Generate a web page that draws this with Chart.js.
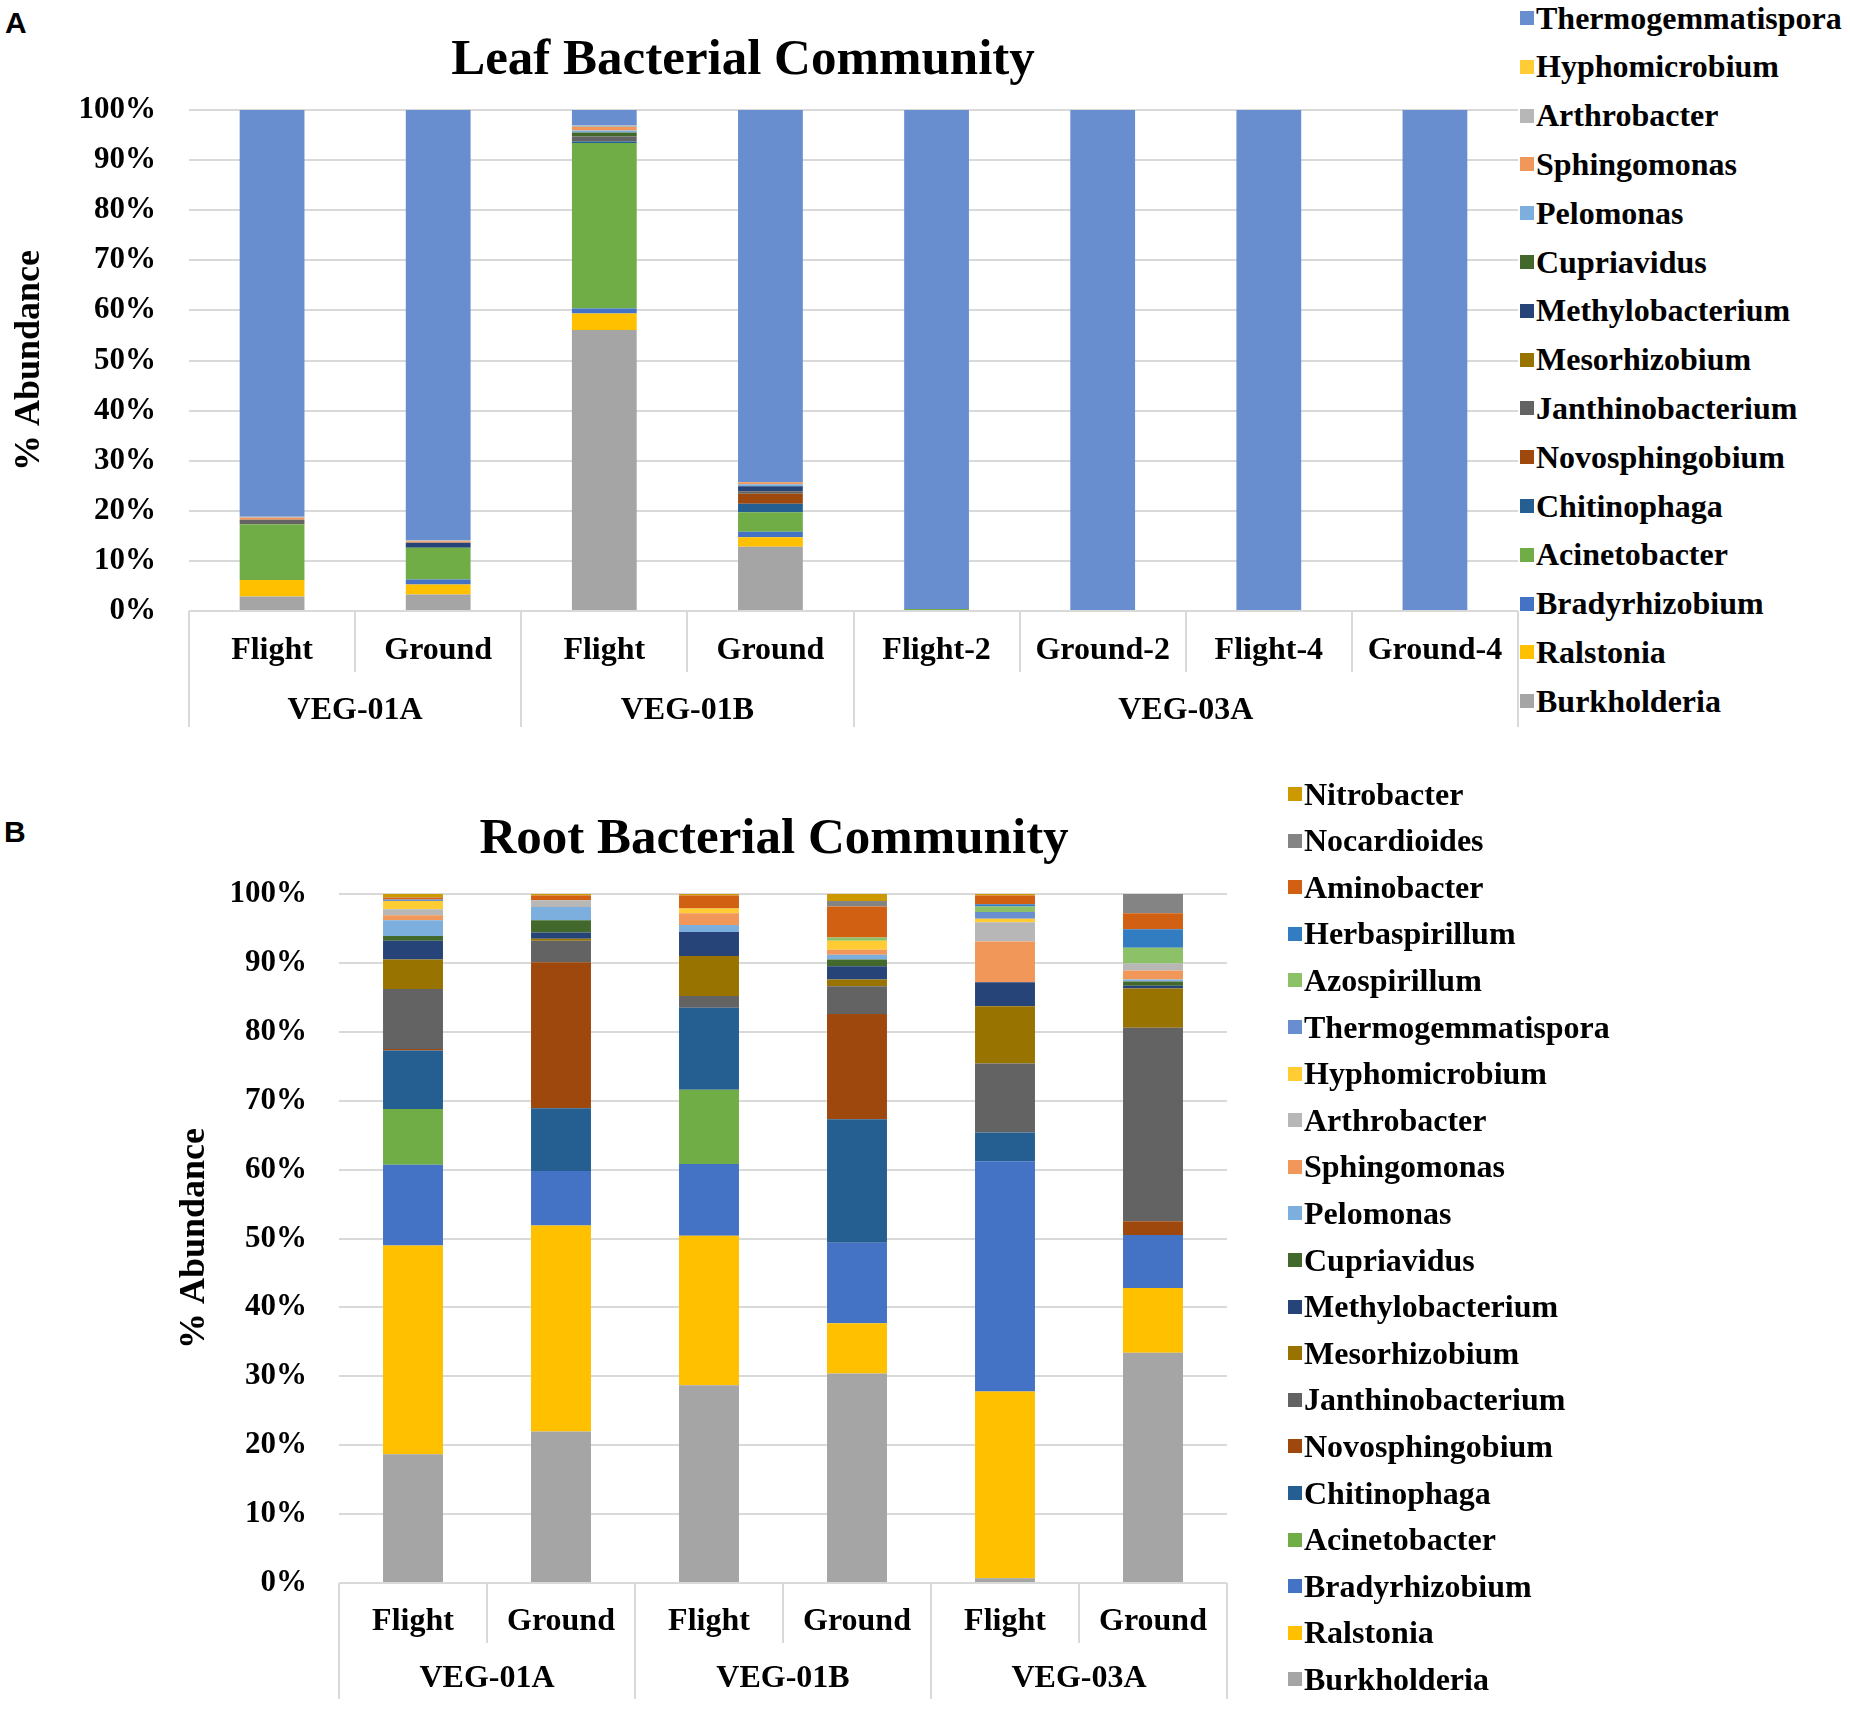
<!DOCTYPE html>
<html>
<head>
<meta charset="utf-8">
<script src="https://cdn.jsdelivr.net/npm/chart.js@4.4.1/dist/chart.umd.min.js"></script>
<style>
  body { margin: 0; background: #fff; width: 1850px; height: 1709px; position: relative; overflow: hidden; }
  .abs { position: absolute; }
  .panel { font: bold 30px "Liberation Sans", Arial, sans-serif; }
  .title { font: bold 51px "Liberation Serif", "Times New Roman", serif; white-space: nowrap; transform: translate(-50%, -50%); }
  .leg { font: bold 32px "Liberation Serif", "Times New Roman", serif; white-space: nowrap; display: flex; align-items: center; height: 40px; }
  .leg span.box { display: inline-block; width: 14px; height: 14px; margin-right: 2px; }
</style>
</head>
<body>
<div class="abs panel" style="left:5px;top:6px;">A</div>
<div class="abs panel" style="left:4px;top:815px;">B</div>
<div class="abs title" style="left:743px;top:57px;">Leaf Bacterial Community</div>
<div class="abs title" style="left:774px;top:836px;">Root Bacterial Community</div>
<canvas id="leafChart" class="abs" style="left:0;top:0;" width="1520" height="740"></canvas>
<canvas id="rootChart" class="abs" style="left:0;top:760px;" width="1290" height="949"></canvas>
<div id="leafLegend"></div>
<div id="rootLegend"></div>
<script>
// ---- data ----
var leafCategories = ['Flight', 'Ground', 'Flight', 'Ground', 'Flight-2', 'Ground-2', 'Flight-4', 'Ground-4'];
var leafGroups = ['VEG-01A', 'VEG-01B', 'VEG-03A'];
var leafGroupSizes = [2, 2, 4];

var leafBurkholderia = [2.9, 3.3, 56.1, 12.8, 0, 0, 0, 0];
var leafRalstonia = [3.3, 2.0, 3.3, 1.9, 0, 0, 0, 0];
var leafBradyrhizobium = [0, 1.0, 1.0, 1.1, 0, 0, 0, 0];
var leafAcinetobacter = [11.1, 6.3, 33.0, 3.9, 0.4, 0, 0, 0];
var leafChitinophaga = [0, 0, 0.3, 1.7, 0, 0, 0, 0];
var leafNovosphingobium = [0, 0, 0, 2.0, 0, 0, 0, 0];
var leafJanthinobacterium = [0.9, 0, 1.0, 0.5, 0, 0, 0, 0];
var leafMesorhizobium = [0, 0, 0, 0, 0, 0, 0, 0];
var leafMethylobacterium = [0, 1.0, 0, 1.0, 0, 0, 0, 0];
var leafCupriavidus = [0, 0, 0.8, 0, 0, 0, 0, 0];
var leafPelomonas = [0, 0, 0.4, 0.4, 0, 0, 0, 0];
var leafSphingomonas = [0.4, 0.3, 0.7, 0.4, 0, 0, 0, 0];
var leafArthrobacter = [0.2, 0.2, 0.3, 0, 0, 0, 0, 0];
var leafHyphomicrobium = [0, 0, 0, 0, 0, 0, 0, 0];
var leafThermogemmatispora = [81.2, 85.9, 3.1, 74.3, 99.6, 100, 100, 100];

var rootCategories = ['Flight', 'Ground', 'Flight', 'Ground', 'Flight', 'Ground'];
var rootGroups = ['VEG-01A', 'VEG-01B', 'VEG-03A'];
var rootGroupSizes = [2, 2, 2];

var rootBurkholderia = [18.7, 22.0, 28.7, 30.4, 0.7, 33.4];
var rootRalstonia = [30.3, 29.9, 21.7, 7.3, 27.1, 9.4];
var rootBradyrhizobium = [11.7, 7.9, 10.4, 11.7, 33.4, 7.7];
var rootAcinetobacter = [8.1, 0, 10.8, 0, 0, 0];
var rootChitinophaga = [8.5, 9.1, 11.9, 17.9, 4.2, 0];
var rootNovosphingobium = [0.2, 21.2, 0, 15.3, 0, 2.0];
var rootJanthinobacterium = [8.7, 3.1, 1.7, 4.0, 10.0, 28.1];
var rootMesorhizobium = [4.3, 0.3, 5.8, 1.0, 8.3, 5.7];
var rootMethylobacterium = [2.7, 0.9, 3.5, 1.9, 3.5, 0.4];
var rootCupriavidus = [0.7, 1.8, 0, 1.0, 0, 0.6];
var rootPelomonas = [2.3, 1.9, 1.0, 0.7, 0, 0.3];
var rootSphingomonas = [0.7, 0, 1.7, 0.7, 5.9, 1.3];
var rootArthrobacter = [0.9, 1.0, 0, 0, 2.8, 1.0];
var rootHyphomicrobium = [1.2, 0, 0.7, 1.3, 0.5, 0];
var rootThermogemmatispora = [0.2, 0, 0, 0, 1.0, 0];
var rootAzospirillum = [0, 0, 0, 0.5, 0.8, 2.3];
var rootHerbaspirillum = [0, 0, 0, 0, 0.3, 2.7];
var rootAminobacter = [0.3, 0.7, 1.9, 4.5, 1.3, 2.3];
var rootNocardioides = [0, 0, 0, 0.8, 0, 2.8];
var rootNitrobacter = [0.5, 0.2, 0.2, 1.0, 0.2, 0];

var yTicks = [0, 10, 20, 30, 40, 50, 60, 70, 80, 90, 100];

// Excel-style colours, one per genus
var colors = {
  Burkholderia: '#A5A5A5', Ralstonia: '#FFC000', Bradyrhizobium: '#4472C4',
  Acinetobacter: '#70AD47', Chitinophaga: '#255E91', Novosphingobium: '#9E480E',
  Janthinobacterium: '#636363', Mesorhizobium: '#997300', Methylobacterium: '#264478',
  Cupriavidus: '#43682B', Pelomonas: '#7CAFDD', Sphingomonas: '#F1975A',
  Arthrobacter: '#B7B7B7', Hyphomicrobium: '#FFCD33', Thermogemmatispora: '#698ED0',
  Azospirillum: '#8CC168', Herbaspirillum: '#327DC2', Aminobacter: '#D26012',
  Nocardioides: '#848484', Nitrobacter: '#CC9A00'
};

var leafSeries = [
  ['Burkholderia', leafBurkholderia], ['Ralstonia', leafRalstonia], ['Bradyrhizobium', leafBradyrhizobium],
  ['Acinetobacter', leafAcinetobacter], ['Chitinophaga', leafChitinophaga], ['Novosphingobium', leafNovosphingobium],
  ['Janthinobacterium', leafJanthinobacterium], ['Mesorhizobium', leafMesorhizobium], ['Methylobacterium', leafMethylobacterium],
  ['Cupriavidus', leafCupriavidus], ['Pelomonas', leafPelomonas], ['Sphingomonas', leafSphingomonas],
  ['Arthrobacter', leafArthrobacter], ['Hyphomicrobium', leafHyphomicrobium], ['Thermogemmatispora', leafThermogemmatispora]
];
var rootSeries = [
  ['Burkholderia', rootBurkholderia], ['Ralstonia', rootRalstonia], ['Bradyrhizobium', rootBradyrhizobium],
  ['Acinetobacter', rootAcinetobacter], ['Chitinophaga', rootChitinophaga], ['Novosphingobium', rootNovosphingobium],
  ['Janthinobacterium', rootJanthinobacterium], ['Mesorhizobium', rootMesorhizobium], ['Methylobacterium', rootMethylobacterium],
  ['Cupriavidus', rootCupriavidus], ['Pelomonas', rootPelomonas], ['Sphingomonas', rootSphingomonas],
  ['Arthrobacter', rootArthrobacter], ['Hyphomicrobium', rootHyphomicrobium], ['Thermogemmatispora', rootThermogemmatispora],
  ['Azospirillum', rootAzospirillum], ['Herbaspirillum', rootHerbaspirillum], ['Aminobacter', rootAminobacter],
  ['Nocardioides', rootNocardioides], ['Nitrobacter', rootNitrobacter]
];

var SERIF = '"Liberation Serif", "Times New Roman", serif';
var GRID = '#d9d9d9';

// two-level category axis (labels + group labels + separator lines)
var multiAxis = {
  id: 'multiAxis',
  afterDraw: function (chart, args, opts) {
    var ctx = chart.ctx, xs = chart.scales.x, area = chart.chartArea;
    var n = opts.categories.length;
    function edge(i) {
      if (i <= 0) return area.left;
      if (i >= n) return area.right;
      return (xs.getPixelForValue(i - 1) + xs.getPixelForValue(i)) / 2;
    }
    var starts = [0];
    opts.sizes.forEach(function (s, k) { starts.push(starts[k] + s); });
    ctx.save();
    ctx.strokeStyle = GRID;
    ctx.lineWidth = 2;
    for (var i = 0; i <= n; i++) {
      var len = starts.indexOf(i) >= 0 ? opts.longLine : opts.shortLine;
      var px = Math.round(edge(i));
      ctx.beginPath();
      ctx.moveTo(px, area.bottom);
      ctx.lineTo(px, area.bottom + len);
      ctx.stroke();
    }
    ctx.fillStyle = '#000';
    ctx.font = 'bold 32px ' + SERIF;
    ctx.textAlign = 'center';
    ctx.textBaseline = 'middle';
    opts.categories.forEach(function (c, i) {
      ctx.fillText(c, xs.getPixelForValue(i), area.bottom + opts.row1);
    });
    opts.groups.forEach(function (g, k) {
      var mid = (edge(starts[k]) + edge(starts[k + 1])) / 2;
      ctx.fillText(g, mid, area.bottom + opts.row2);
    });
    ctx.restore();
  }
};

function makeChart(id, categories, series, barPct, pad, yWidth, xHeight, titlePad, tickPad, axisOpts) {
  var datasets = series.map(function (s) {
    return {
      label: s[0],
      data: s[1],
      backgroundColor: colors[s[0]],
      borderWidth: 0,
      categoryPercentage: 1,
      barPercentage: barPct
    };
  });
  return new Chart(document.getElementById(id).getContext('2d'), {
    type: 'bar',
    data: { labels: categories, datasets: datasets },
    plugins: [multiAxis],
    options: {
      responsive: false,
      animation: false,
      devicePixelRatio: 1,
      layout: { padding: pad },
      plugins: {
        legend: { display: false },
        tooltip: { enabled: false },
        multiAxis: axisOpts
      },
      scales: {
        x: {
          stacked: true,
          grid: { display: false },
          border: { display: false },
          ticks: { display: false },
          afterFit: function (scale) { scale.height = xHeight; }
        },
        y: {
          stacked: true,
          min: 0,
          max: 100,
          afterBuildTicks: function (scale) { scale.ticks = yTicks.map(function (v) { return { value: v }; }); },
          afterFit: function (scale) { scale.width = yWidth; },
          grid: { color: GRID, lineWidth: 2, drawTicks: false },
          border: { display: false },
          ticks: {
            padding: tickPad,
            color: '#000',
            font: { family: SERIF, size: 31, weight: 'bold' },
            callback: function (v) { return v + '%'; }
          },
          title: {
            display: true,
            text: '% Abundance',
            color: '#000',
            padding: { top: titlePad, bottom: 0 },
            font: { family: SERIF, size: 36, weight: 'bold' }
          }
        }
      }
    }
  });
}

makeChart('leafChart', leafCategories, leafSeries, 0.39,
  { top: 110, right: 2, left: 0, bottom: 0 }, 189, 129, 8, 33,
  { categories: leafCategories, groups: leafGroups, sizes: leafGroupSizes, row1: 40, row2: 100, shortLine: 61, longLine: 116 });

makeChart('rootChart', rootCategories, rootSeries, 0.405,
  { top: 134, right: 63, left: 0, bottom: 0 }, 339, 126, 173, 32,
  { categories: rootCategories, groups: rootGroups, sizes: rootGroupSizes, row1: 39, row2: 96, shortLine: 60, longLine: 116 });

// legends, listed top-down in reverse stacking order like the original
function buildLegend(elId, series, boxX, firstY, step) {
  var el = document.getElementById(elId);
  series.slice().reverse().forEach(function (s, i) {
    var row = document.createElement('div');
    row.className = 'abs leg';
    row.style.left = boxX + 'px';
    row.style.top = (firstY + i * step - 20) + 'px';
    row.innerHTML = '<span class="box" style="background:' + colors[s[0]] + '"></span>' + s[0];
    el.appendChild(row);
  });
}
buildLegend('leafLegend', leafSeries, 1520, 18, 48.8);
buildLegend('rootLegend', rootSeries, 1288, 794, 46.6);
</script>
</body>
</html>
